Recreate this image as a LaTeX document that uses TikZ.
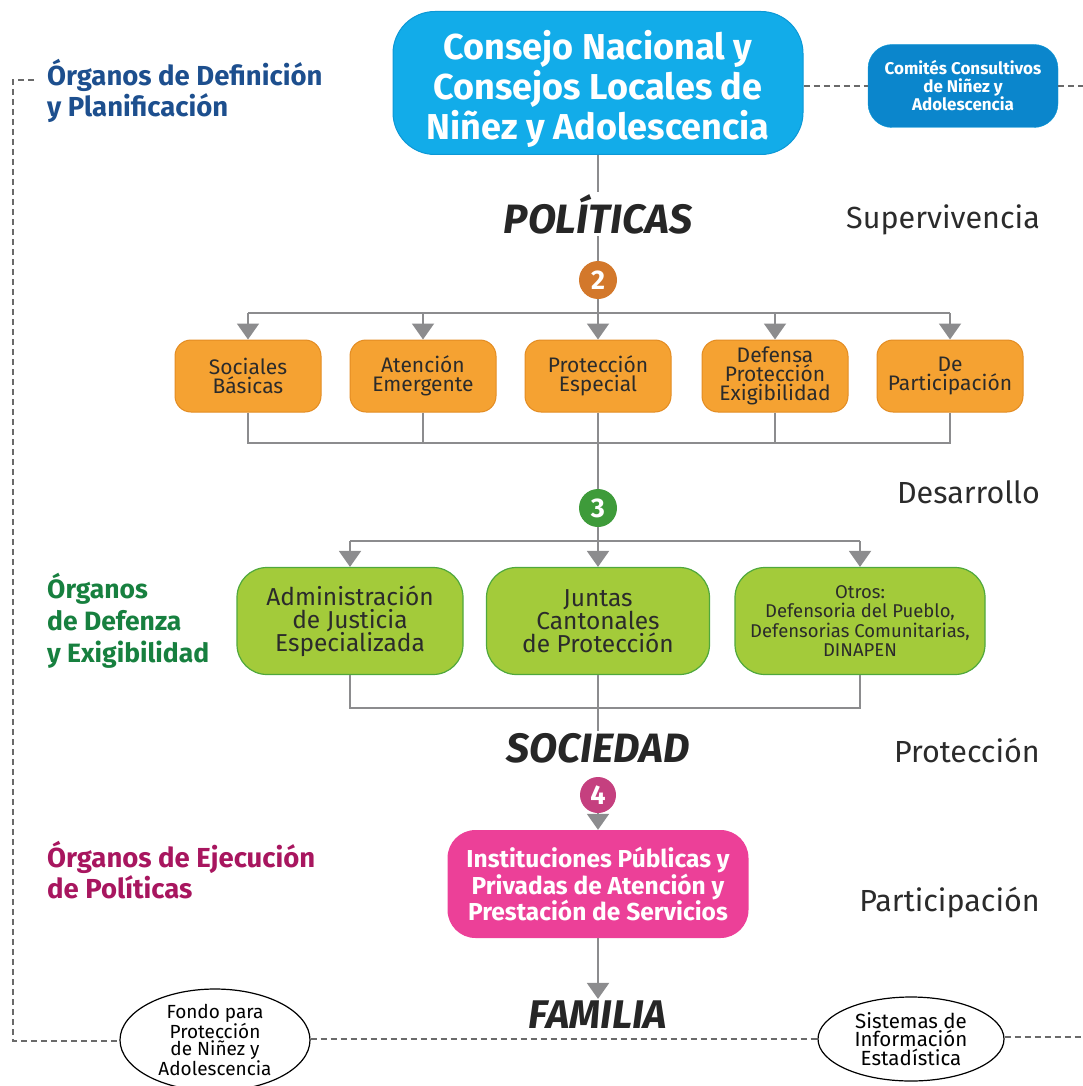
\documentclass[tikz,border=0pt]{standalone}
\usepackage{fontspec}
\setmainfont{Fira Sans}
\usetikzlibrary{arrows.meta,shapes.geometric}
\definecolor{lnGray}{HTML}{8C8C8E}
\definecolor{dashGray}{HTML}{6A6A6A}
\definecolor{cBlue}{HTML}{12ACE9}
\definecolor{cBlueB}{HTML}{0C98D6}
\definecolor{cBlueD}{HTML}{0B86CC}
\definecolor{cOrange}{HTML}{F5A232}
\definecolor{cOrangeB}{HTML}{E38C22}
\definecolor{cGreen}{HTML}{A3CB3A}
\definecolor{cGreenB}{HTML}{4FA83C}
\definecolor{cPink}{HTML}{EC4098}
\definecolor{cTwo}{HTML}{D3782B}
\definecolor{cThree}{HTML}{3E9B3A}
\definecolor{cFour}{HTML}{C5407F}
\definecolor{tBlue}{HTML}{1D4F8E}
\definecolor{tGreen}{HTML}{17803F}
\definecolor{tMag}{HTML}{A8165F}
\definecolor{tDark}{HTML}{2B2B2B}
\begin{document}
\begin{tikzpicture}[x=1pt,y=-1pt,
  conn/.style={draw=lnGray,line width=2pt},
  arr/.style={conn,-{Triangle[width=22pt,length=16pt]}},
  dashln/.style={draw=dashGray,line width=1.4pt,dash pattern=on 6pt off 4pt},
  orbox/.style={draw=cOrangeB,line width=1pt,fill=cOrange,rounded corners=16pt,minimum width=146pt,minimum height=72pt,inner sep=1pt,align=center,text=tDark,font={\fontsize{21}{19}\selectfont}},
  grbox/.style={draw=cGreenB,line width=1.2pt,fill=cGreen,rounded corners=30pt,minimum height=107pt,inner sep=1pt,align=center,text=tDark},
  numc/.style={circle,minimum size=38pt,inner sep=0pt,text=white,font={\fontsize{27}{27}\selectfont\bfseries}},
  bigit/.style={font={\fontsize{41}{41}\selectfont\bfseries\itshape},text=black!85,inner sep=2pt},
  side/.style={font={\fontsize{30.5}{30.5}\selectfont},text=tDark,anchor=east,inner sep=0pt},
  lbl/.style={anchor=north west,align=left,inner sep=0pt,font={\fontsize{27.5}{31}\selectfont\bfseries}},
  ell/.style={ellipse,draw=black,line width=1.2pt,align=center,inner sep=0pt}
]
\useasboundingbox (0,0) rectangle (1083,1086);

% top boxes
\node[draw=cBlueB,line width=1pt,fill=cBlue,rounded corners=42pt,minimum width=410pt,minimum height=143pt,text=white,font={\fontsize{36}{35}\selectfont\bfseries}] (consejo) at (598,83) {\raisebox{-7pt}[\height][\depth]{\begin{tabular}{@{}c@{}}Consejo Nacional y\\Consejos Locales de\\Niñez y Adolescencia\end{tabular}}};
\node[fill=cBlueD,draw=cBlueB,rounded corners=24pt,minimum width=190pt,minimum height=83pt,align=center,text=white,font={\fontsize{17}{17.5}\selectfont\bfseries}] (comites) at (963,86) {Comités Consultivos\\de Niñez y\\Adolescencia};

% labels
\node[lbl,text=tBlue] (lblDef) at (47,59) {Órganos de Definición\\y Planificación};
\node[lbl,text=tGreen,font={\fontsize{26.5}{32}\selectfont\bfseries}] (lblDefensa) at (47,573) {Órganos\\de Defenza\\y Exigibilidad};
\node[lbl,text=tMag] (lblEjec) at (47,841) {Órganos de Ejecución\\de Políticas};

\node[side] (superv) at (1040,220) {Supervivencia};
\node[side] (desar) at (1040,492) {Desarrollo};
\node[side] (protec) at (1040,750) {Protección};
\node[side] (partic) at (1040,903) {Participación};

% spine
\node[bigit] (politicas) at (598,214) {POLÍTICAS};
\node[numc,fill=cTwo] (c2) at (598,280) {2};

\node[orbox] (sb) at (248,376) {Sociales\\Básicas};
\node[orbox] (ae) at (423,376) {Atención\\Emergente};
\node[orbox] (pe) at (598,376) {Protección\\Especial};
\node[orbox] (dpe) at (775,376) {Defensa\\Protección\\Exigibilidad};
\node[orbox] (dp) at (950,376) {De\\Participación};

\node[numc,fill=cThree] (c3) at (598,508) {3};

\node[grbox,minimum width=226pt,font={\fontsize{24.5}{23}\selectfont}] (aj) at (350,621) {Administración\\de Justicia\\Especializada};
\node[grbox,minimum width=223pt,font={\fontsize{24.5}{23}\selectfont}] (jc) at (598,621) {Juntas\\Cantonales\\de Protección};
\node[grbox,minimum width=250pt,font={\fontsize{18.5}{19.5}\selectfont}] (ot) at (860,621) {Otros:\\Defensoria del Pueblo,\\Defensorias Comunitarias,\\DINAPEN};

\node[bigit] (sociedad) at (598,748) {SOCIEDAD};
\node[numc,fill=cFour,minimum size=36pt] (c4) at (598,795) {4};
\node[fill=cPink,rounded corners=28pt,minimum width=301pt,minimum height=108pt,align=center,text=white,font={\fontsize{24.5}{24}\selectfont\bfseries}] (inst) at (598,884) {Instituciones Públicas y\\Privadas de Atención y\\Prestación de Servicios};
\node[bigit,font={\fontsize{40}{40}\selectfont\bfseries\itshape}] (familia) at (598,1015) {FAMILIA};

\node[ell,minimum width=190pt,minimum height=86pt,font={\fontsize{19}{17.5}\selectfont}] (fondo) at (215,1040) {Fondo para\\Protección\\de Niñez y\\Adolescencia};
\node[ell,minimum width=186pt,minimum height=84pt,font={\fontsize{20.5}{18.5}\selectfont}] (sist) at (911,1039) {Sistemas de\\Información\\Estadística};

% bar coordinates
\coordinate (bar1) at (0,313);
\coordinate (bar2) at (0,443);
\coordinate (bar3) at (0,541);
\coordinate (bar4) at (0,708);

% connectors
\draw[conn] (consejo) -- (politicas);
\draw[conn] (politicas) -- (c2);
\draw[conn] (sb.north |- bar1) -- (dp.north |- bar1);
\draw[arr] (c2) -- (pe);
\foreach \n in {sb,ae,dpe,dp} \draw[arr] (\n.north |- bar1) -- (\n.north);
\draw[conn] (sb.south) -- (sb.south |- bar2) -- (dp.south |- bar2) -- (dp.south);
\foreach \n in {ae,dpe} \draw[conn] (\n.south) -- (\n.south |- bar2);
\draw[conn] (pe) -- (c3);
\draw[conn] (aj.north |- bar3) -- (ot.north |- bar3);
\draw[arr] (c3) -- (jc);
\foreach \n in {aj,ot} \draw[arr] (\n.north |- bar3) -- (\n.north);
\draw[conn] (aj.south) -- (aj.south |- bar4) -- (ot.south |- bar4) -- (ot.south);
\draw[conn] (jc) -- (sociedad);
\draw[arr] (c4) -- (inst);
\draw[arr] (inst) -- (familia);

% dashed frame
\coordinate (dTL) at (13,80);
\coordinate (dLab) at (34,80);
\coordinate (dBL) at (13,1041);
\coordinate (dR1) at (1083,86);
\coordinate (dR2) at (1083,1037);
\draw[dashln] (dLab) -- (dTL) -- (dBL) -- (dBL -| fondo.west);
\draw[dashln] (fondo.east |- sist.west) -- (sist.west);
\draw[dashln] (sist.east |- dR2) -- (dR2);
\draw[dashln] (consejo.east |- comites.west) -- (comites.west);
\draw[dashln] (comites.east) -- (dR1);
\end{tikzpicture}
\end{document}
